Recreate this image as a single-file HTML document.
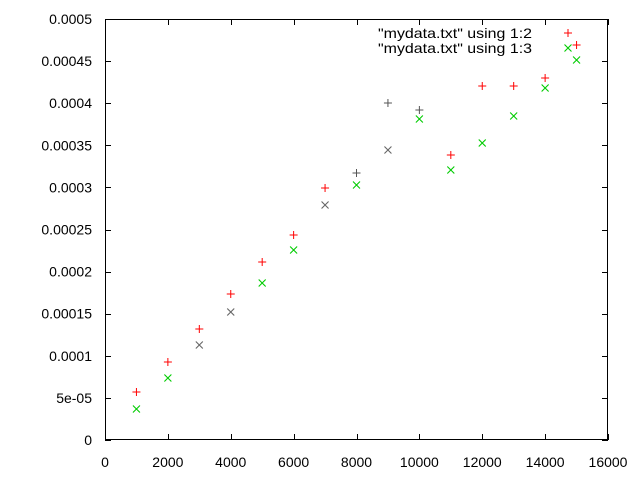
<!DOCTYPE html>
<html><head><meta charset="utf-8"><style>
html,body{margin:0;padding:0;background:#fff;}
svg{display:block;font-family:"Liberation Sans",sans-serif;font-size:14px;}
</style></head><body>
<svg id="chart" width="640" height="480" viewBox="0 0 640 480" xmlns="http://www.w3.org/2000/svg">
<rect width="640" height="480" fill="#fff"/>
<g id="axes"></g><g id="marks"></g><g id="legend"></g>
</svg>
<script>
const xValues=[1000,2000,3000,4000,5000,6000,7000,8000,9000,10000,11000,12000,13000,14000,15000];
const series1=[5.7e-5,9.26e-5,1.318e-4,1.734e-4,2.114e-4,2.435e-4,2.993e-4,3.171e-4,4.002e-4,3.919e-4,3.385e-4,4.204e-4,4.204e-4,4.299e-4,4.691e-4];
const series2=[3.68e-5,7.36e-5,1.128e-4,1.52e-4,1.865e-4,2.257e-4,2.791e-4,3.029e-4,3.444e-4,3.812e-4,3.207e-4,3.527e-4,3.848e-4,4.181e-4,4.513e-4];
const xTicks=[0,2000,4000,6000,8000,10000,12000,14000,16000];
const yTicks=[0,5e-5,1e-4,1.5e-4,2e-4,2.5e-4,3e-4,3.5e-4,4e-4,4.5e-4,5e-4];
const yTickLabels=["0","5e-05","0.0001","0.00015","0.0002","0.00025","0.0003","0.00035","0.0004","0.00045","0.0005"];
const legendLabels=['"mydata.txt" using 1:2','"mydata.txt" using 1:3'];

const L=105,R=608,T=19,B=440;
const xs=v=>L+(v-0)/16000*(R-L);
const ys=v=>B-(v-0)/0.0005*(B-T);
const NS="http://www.w3.org/2000/svg";
function mk(tag,attrs,parent){const e=document.createElementNS(NS,tag);for(const k in attrs)e.setAttribute(k,attrs[k]);parent.appendChild(e);return e;}
const axes=document.getElementById('axes'),marks=document.getElementById('marks'),leg=document.getElementById('legend');
const frame=mk('rect',{x:L+0.5,y:T+0.5,width:R-L-1,height:B-T-1,fill:'none',stroke:'#000','stroke-width':1},axes);


xTicks.forEach((v,i)=>{
  const x=Math.round(xs(v))+0.5;
  const t=mk('path',{d:`M${x} ${B}v-6M${x} ${T}v6`,stroke:'#000'},axes);
  
  
  const lb=mk('text',{x:xs(v),y:467,'text-anchor':'middle',fill:'#000'},axes);lb.textContent=String(v);
  
  
});
yTicks.forEach((v,i)=>{
  const y=Math.round(ys(v))+0.5;
  const t=mk('path',{d:`M${L} ${y}h6M${R} ${y}h-6`,stroke:'#000'},axes);
  
  
  const lb=mk('text',{x:92,y:ys(v)+5,'text-anchor':'end',fill:'#000'},axes);lb.textContent=yTickLabels[i];
  
  
});
function plus(x,y,c,p){return mk('path',{d:`M${x-4} ${y}h8M${x} ${y-4}v8`,stroke:c,'stroke-width':1},p);}
function cross(x,y,c,p){return mk('path',{d:`M${x-3.5} ${y-3.5}l7 7M${x-3.5} ${y+3.5}l7 -7`,stroke:c,'stroke-width':1.1},p);}
const gray1=[7,8,9],gray2=[2,3,6,8];
xValues.forEach((xv,i)=>{
  const m=plus(xs(xv),ys(series1[i]),gray1.includes(i)?'#555':'#f00',marks);
  
  
});
xValues.forEach((xv,i)=>{
  const m=cross(xs(xv),ys(series2[i]),gray2.includes(i)?'#666':'#0c0',marks);
  
  
});
legendLabels.forEach((s,i)=>{
  const y=33+i*15;
  const t=mk('text',{x:532,y:y+5,'text-anchor':'end',fill:'#000',textLength:154,lengthAdjust:'spacingAndGlyphs'},leg);t.textContent=s;
  
  
  const m=i===0?plus(568,y,'#f00',leg):cross(568,y,'#0c0',leg);
  
  
});
</script>
</body></html>
